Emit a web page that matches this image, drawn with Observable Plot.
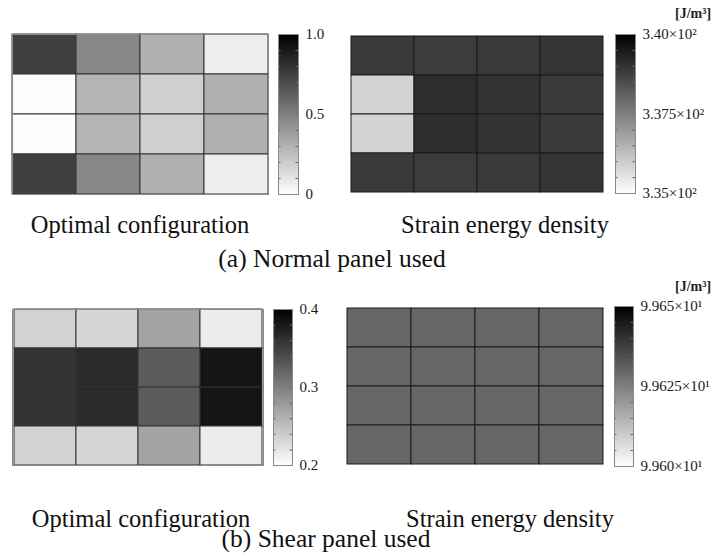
<!DOCTYPE html>
<html>
<head>
<meta charset="utf-8">
<script src="https://cdn.jsdelivr.net/npm/d3@7"></script>
<script src="https://cdn.jsdelivr.net/npm/@observablehq/plot@0.6"></script>
<style>
  html, body { margin: 0; padding: 0; background: #fff; }
  #root { position: relative; width: 714px; height: 553px; overflow: hidden; font-family: "Liberation Serif", "Times New Roman", serif; }
  .cap { position: absolute; white-space: nowrap; font-size: 24.5px; color: #111; transform: translateX(-50%); line-height: 1; }
  .title { font-size: 25.5px; }
  .unit { position: absolute; white-space: nowrap; font-size: 14px; font-weight: bold; color: #222; line-height: 1; }
</style>
</head>
<body>
<div id="root"></div>
<script>
// ---- data ----
const cols = ["c1", "c2", "c3", "c4"];
const rows = ["r1", "r2", "r3", "r4"];

// (a) Normal panel used — optimal configuration (0 … 1)
const normalConfig = [
  [0.75, 0.47, 0.31, 0.07],
  [0.01, 0.29, 0.19, 0.31],
  [0.01, 0.29, 0.19, 0.31],
  [0.75, 0.47, 0.31, 0.07]
];
// (a) Normal panel used — strain energy density [J/m^3]
const normalEnergy = [
  [338.86, 338.82, 338.86, 338.96],
  [335.86, 339.12, 339.00, 338.86],
  [335.86, 339.12, 339.00, 338.86],
  [338.86, 338.82, 338.86, 338.96]
];
// (b) Shear panel used — optimal configuration (0.2 … 0.4)
const shearConfig = [
  [0.235, 0.232, 0.271, 0.215],
  [0.360, 0.367, 0.329, 0.384],
  [0.360, 0.367, 0.329, 0.384],
  [0.235, 0.232, 0.271, 0.215]
];
// (b) Shear panel used — strain energy density [J/m^3]
const shearEnergy = [
  [99.63, 99.63, 99.63, 99.63],
  [99.63, 99.63, 99.63, 99.63],
  [99.63, 99.63, 99.63, 99.63],
  [99.63, 99.63, 99.63, 99.63]
];

const normalConfigTicks = [0, 0.5, 1.0];
const normalConfigLabels = ["0", "0.5", "1.0"];
const normalEnergyTicks = [335, 337.5, 340];
const normalEnergyLabels = ["3.35×10²", "3.375×10²", "3.40×10²"];
const shearConfigTicks = [0.2, 0.3, 0.4];
const shearConfigLabels = ["0.2", "0.3", "0.4"];
const shearEnergyTicks = [99.60, 99.625, 99.65];
const shearEnergyLabels = ["9.960×10¹", "9.9625×10¹", "9.965×10¹"];

const captionLeft = "Optimal configuration";
const captionRight = "Strain energy density";
const titleA = "(a) Normal panel used";
const titleB = "(b) Shear panel used";
const unitLabel = "[J/m³]";

// ---- drawing ----
const root = document.getElementById("root");
const FONT = '"Liberation Serif", "Times New Roman", serif';

function place(node, left, top) {
  node.style.position = "absolute";
  node.style.left = left + "px";
  node.style.top = top + "px";
  root.appendChild(node);
}

function heat(values, lo, hi, left, top, w, h, outer, inner) {
  const data = rows.flatMap((r, i) => cols.map((c, j) => ({row: r, col: c, v: values[i][j]})));
  const marks = [Plot.cell(data, {x: "col", y: "row", fill: "v", stroke: inner, strokeWidth: 1, inset: 0})];
  if (outer) marks.push(Plot.frame({stroke: outer, strokeWidth: 1}));
  const p = Plot.plot({
    width: w + 2, height: h + 2, margin: 1,
    x: {type: "band", domain: cols, padding: 0, axis: null},
    y: {type: "band", domain: rows, padding: 0, axis: null},
    color: {type: "linear", domain: [lo, hi], range: ["#ffffff", "#000000"]},
    marks
  });
  place(p, left - 1, top - 1);
}

function colorbar(lo, hi, ticks, labels, left, top, w, h, fontSize) {
  const mt = 12, mb = 12, mr = 100;
  const minor = d3.ticks(lo, hi, 10).slice(1, -1);
  const p = Plot.plot({
    width: w + 1 + mr, height: h + mt + mb,
    marginLeft: 1, marginRight: mr, marginTop: mt, marginBottom: mb,
    style: {fontFamily: FONT, color: "#1a1a1a", background: "transparent"},
    x: {domain: [0, 1], axis: null},
    y: {domain: [lo, hi], axis: null},
    color: {type: "linear", domain: [lo, hi], range: ["#ffffff", "#000000"]},
    marks: [
      Plot.raster({fill: (x, y) => y, x1: 0, x2: 1, y1: lo, y2: hi}),
      Plot.ruleY(minor, {x1: 0, x2: 0.13, stroke: "#666", strokeWidth: 1}),
      Plot.ruleY(minor, {x1: 0.87, x2: 1, stroke: "#666", strokeWidth: 1}),
      Plot.frame({stroke: "#8a8a8a", strokeWidth: 1}),
      Plot.axisY(ticks, {
        anchor: "right", tickSize: 0, tickPadding: 7, fontSize,
        tickFormat: d => labels[ticks.indexOf(d)]
      })
    ]
  });
  place(p, left - 1, top - mt);
}

function text(cls, str, x, y) {
  const d = document.createElement("div");
  d.className = cls;
  d.textContent = str;
  d.style.left = x + "px";
  d.style.top = y + "px";
  root.appendChild(d);
  return d;
}

// (a)
heat(normalConfig, 0, 1, 12, 34, 256, 160, "#8a8a8a", "#333");
colorbar(0, 1, normalConfigTicks, normalConfigLabels, 278, 34, 20, 160, 15);
heat(normalEnergy, 335, 340, 349, 34, 255, 159, null, "#1a1a1a");
colorbar(335, 340, normalEnergyTicks, normalEnergyLabels, 615, 34, 20, 159, 15);
const u1 = text("unit", unitLabel, 0, 7);
u1.style.left = (711 - u1.offsetWidth) + "px";

text("cap", captionLeft, 140, 213);
text("cap", captionRight, 505, 213);
text("cap title", titleA, 332, 246);

// (b)
heat(shearConfig, 0.2, 0.4, 12, 309, 251, 156, "#8a8a8a", "#333");
colorbar(0.2, 0.4, shearConfigTicks, shearConfigLabels, 273, 309, 19, 156, 15);
heat(shearEnergy, 99.60, 99.65, 347, 306, 256, 159, null, "#1a1a1a");
colorbar(99.60, 99.65, shearEnergyTicks, shearEnergyLabels, 614, 306, 19, 160, 15);
const u2 = text("unit", unitLabel, 0, 280);
u2.style.left = (711 - u2.offsetWidth) + "px";

text("cap", captionLeft, 141, 507);
text("cap", captionRight, 510, 507);
text("cap title", titleB, 326, 526);
</script>
</body>
</html>
